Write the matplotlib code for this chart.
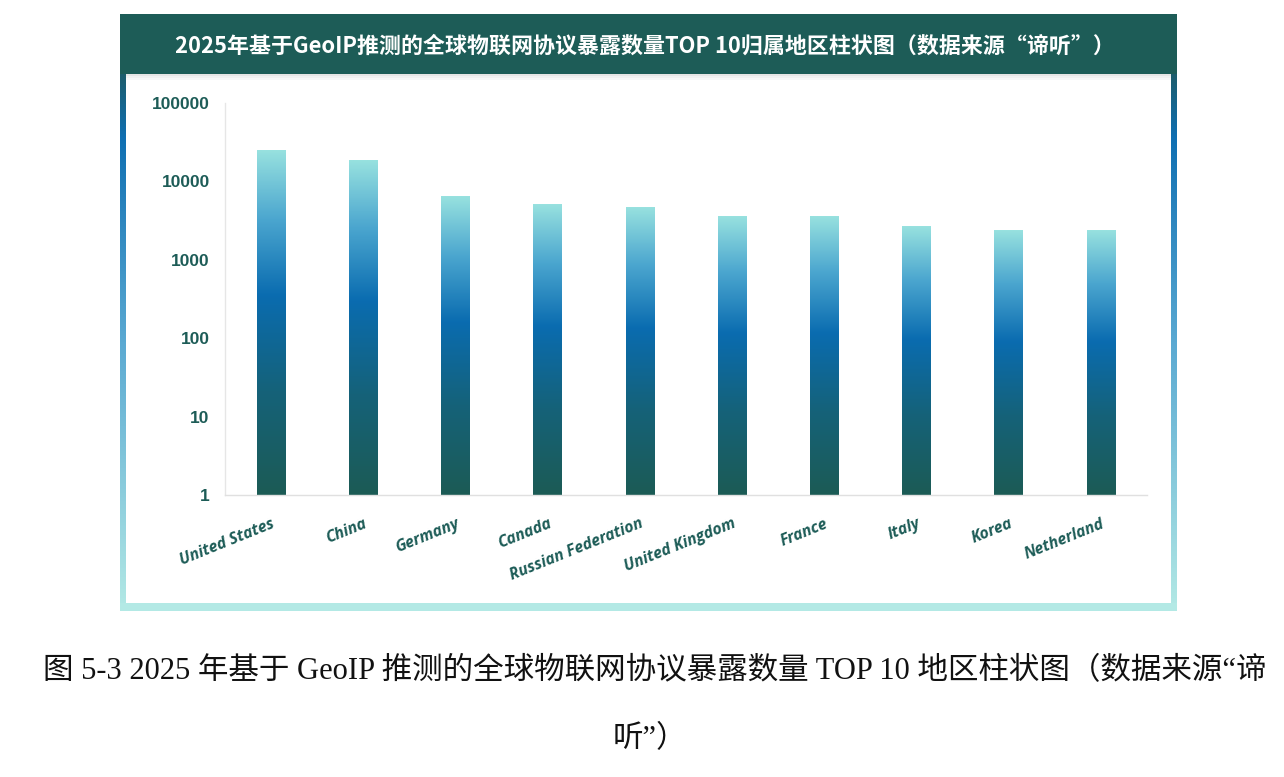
# Bar chart of IoT protocol exposure by region (log scale, gradient bars)
import numpy as np
import matplotlib
matplotlib.use('Agg')
import matplotlib.pyplot as plt
from matplotlib.colors import LinearSegmentedColormap
from matplotlib.patches import Rectangle

# Data
regions = ['United States', 'China', 'Germany', 'Canada', 'Russian Federation',
           'United Kingdom', 'France', 'Italy', 'Korea', 'Netherland']
counts = [25000, 18500, 6500, 5000, 4700, 3600, 3550, 2650, 2350, 2330]
ytick_values = [1, 10, 100, 1000, 10000, 100000]
ytick_labels = ['1', '10', '100', '1000', '10000', '100000']

title = '2025年基于GeoIP推测的全球物联网协议暴露数量TOP 10归属地区柱状图（数据来源“谛听”）'
caption1 = '图 5-3 2025 年基于 GeoIP 推测的全球物联网协议暴露数量 TOP 10 地区柱状图（数据来源“谛'
caption2 = '听”）'

teal = '#1d5c57'
bar_cmap = LinearSegmentedColormap.from_list(
    'bar', [(0.0, '#1c5b55'), (0.3, '#156279'), (0.58, '#0a6cb0'),
            (0.8, '#4ba6cf'), (1.0, '#97e1df')])
border_cmap = LinearSegmentedColormap.from_list(
    'border', [(0.0, '#b3e9e5'), (0.5, '#5aa9d2'), (0.88, '#0f6fb2'), (1.0, '#1d5c6a')])

W, H = 1284, 777
fig = plt.figure(figsize=(W / 100, H / 100), dpi=100)
fig.patch.set_facecolor('white')

# decoration layer in pixel coordinates (frame, header, caption)
deco = fig.add_axes([0, 0, 1, 1], zorder=0)
deco.set_xlim(0, W)
deco.set_ylim(H, 0)
deco.axis('off')

grad = np.linspace(0, 1, 256).reshape(-1, 1)
# side borders (gradient) and bottom border
deco.imshow(grad, cmap=border_cmap, extent=(120, 126, 611, 72), aspect='auto', origin='lower')
deco.imshow(grad, cmap=border_cmap, extent=(1171, 1177, 611, 72), aspect='auto', origin='lower')
deco.add_patch(Rectangle((120, 603), 1057, 8, color='#b3e9e5', lw=0))
# header with a soft shadow
for i, a in enumerate([0.10, 0.06, 0.03]):
    deco.add_patch(Rectangle((126, 74 + i * 2), 1045, 2, color='black', alpha=a, lw=0))
deco.add_patch(Rectangle((120, 14), 1057, 60, color=teal, lw=0))
deco.text(645, 46, title, color='white', fontsize=15.8, fontweight='bold',
          ha='center', va='center', family=['Noto Sans CJK SC', 'DejaVu Sans'])

cap_font = ['Liberation Serif', 'Noto Sans CJK SC']
deco.text(655, 672, caption1, fontsize=22, ha='center', va='center', family=cap_font, color='#111111')
deco.text(650, 740, caption2, fontsize=22, ha='center', va='center', family=cap_font, color='#111111')

# main chart
ax = fig.add_axes([225 / W, 1 - 495 / H, (1147 - 225) / W, (495 - 103) / H], zorder=1)
ax.set_facecolor('none')
ax.set_yscale('log')
ax.set_ylim(1, 100000)
ax.set_xlim(-0.5, len(regions) - 0.5)

x = np.arange(len(regions))
bars = ax.bar(x, counts, width=0.31, bottom=1, color='none', lw=0, zorder=2)
ax.set_autoscale_on(False)

to_axes = ax.transData + ax.transAxes.inverted()
for b in bars:
    (x0, y0), (x1, y1) = to_axes.transform([[b.get_x(), 1],
                                            [b.get_x() + b.get_width(), b.get_y() + b.get_height()]])
    ax.imshow(grad, cmap=bar_cmap, extent=(x0, x1, y0, y1), transform=ax.transAxes,
              aspect='auto', origin='lower', zorder=2)

ax.set_yticks(ytick_values)
ax.set_yticklabels(ytick_labels)
ax.minorticks_off()
ax.tick_params(axis='y', length=0, pad=11)
ax.tick_params(axis='x', length=0, pad=15)
for lab in ax.get_yticklabels():
    lab.set_fontsize(12.5)
    lab.set_fontweight('bold')
    lab.set_color(teal)
    lab.set_family('Liberation Sans')

ax.set_xticks(x)
ax.set_xticklabels(regions, rotation=22, ha='right', rotation_mode='anchor',
                   fontsize=11.3, fontweight='bold', fontstyle='italic', color=teal,
                   family='Open Sans')

for side in ['top', 'right']:
    ax.spines[side].set_visible(False)
ax.spines['left'].set_color('#e6e6e6')
ax.spines['bottom'].set_color('#e0e0e0')
ax.spines['left'].set_linewidth(1)
ax.spines['bottom'].set_linewidth(1)

fig.savefig('out.png', dpi=100)
